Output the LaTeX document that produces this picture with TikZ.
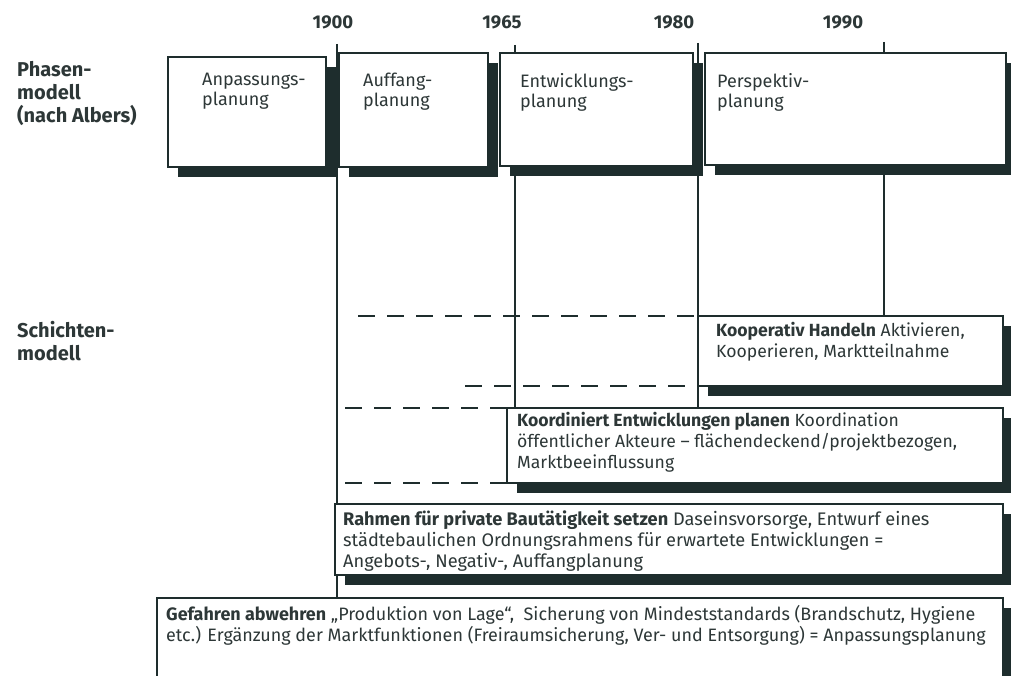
\documentclass[tikz,border=0pt]{standalone}
\usepackage{fontspec}
\setmainfont{Fira Sans}
\usetikzlibrary{shadows}
\definecolor{ink}{RGB}{30,45,45}
\definecolor{txt}{RGB}{45,55,55}
\pgfdeclarelayer{bg}
\pgfsetlayers{bg,main}
\begin{document}
\begin{tikzpicture}[x=1pt,y=-1pt,
  box/.style={draw=ink, line width=1.8pt, fill=white, anchor=north west, inner sep=0pt, outer sep=0pt,
    drop shadow={shadow xshift=10pt, shadow yshift=-10pt, fill=ink, opacity=1}},
  vline/.style={draw=ink, line width=1.8pt},
  dline/.style={draw=ink, line width=1.8pt, dash pattern=on 17pt off 12pt},
  ptext/.style={anchor=north west, inner sep=0pt, align=left, text=txt, font=\fontsize{18}{20}\selectfont},
  ltext/.style={anchor=north west, inner sep=0pt, align=left, text=txt, font=\fontsize{17.6}{21}\selectfont},
  head/.style={anchor=north west, inner sep=0pt, align=left, text=txt, font=\bfseries\fontsize{20}{23}\selectfont},
  year/.style={inner sep=0pt, text=txt, font=\bfseries\fontsize{18.5}{20}\selectfont}]
\clip (0,0) rectangle (1011,676);

% year labels
\node[year] (y1900) at (333,22) {1900};
\node[year] (y1965) at (502,22) {1965};
\node[year] (y1980) at (674,22) {1980};
\node[year] (y1990) at (843,22) {1990};

% left labels
\node[head] (phasen) at (17,61) {Phasen-\\modell\\(nach Albers)};
\node[head] (schichten) at (17,321) {Schichten-\\modell};

% phase boxes
\node[box, minimum width=158pt, minimum height=110pt] (p1) at (168,57) {};
\node[box, minimum width=149pt, minimum height=114pt] (p2) at (339,53) {};
\node[box, minimum width=193pt, minimum height=113pt] (p3) at (500,53) {};
\node[box, minimum width=301pt, minimum height=112pt] (p4) at (705,53) {};

\node[ptext] (p1t) at (202,73) {Anpassungs-\\planung};
\node[ptext] (p2t) at (363,73) {Auffang-\\planung};
\node[ptext] (p3t) at (520,73) {Entwicklungs-\\planung};
\node[ptext] (p4t) at (717,73) {Perspektiv-\\planung};

% layer boxes
\node[box, minimum width=305pt, minimum height=70pt] (koop) at (698,316) {};
\node[box, minimum width=496pt, minimum height=75pt] (koord) at (507,408) {};
\node[box, minimum width=668pt, minimum height=71pt] (rahmen) at (335,504) {};
\node[box, minimum width=846pt, minimum height=95pt] (gef) at (157,598) {};

\node[ltext] (koopt) at (716,322) {\textbf{Kooperativ Handeln} Aktivieren,\\Kooperieren, Marktteilnahme};
\node[ltext] (koordt) at (517,412) {\textbf{Koordiniert Entwicklungen planen} Koordination\\öffentlicher Akteure – flächendeckend/projektbezogen,\\Marktbeeinflussung};
\node[ltext, font=\fontsize{18.2}{21}\selectfont] (rahment) at (343,511) {\textbf{Rahmen für private Bautätigkeit setzen} Daseinsvorsorge, Entwurf eines\\städtebaulichen Ordnungsrahmens für erwartete Entwicklungen =\\Angebots-, Negativ-, Auffangplanung};
\node[ltext, font=\fontsize{17.95}{21}\selectfont] (geft) at (166,605) {\textbf{Gefahren abwehren} „Produktion von Lage“,\ \ Sicherung von Mindeststandards (Brandschutz, Hygiene\\etc.) Ergänzung der Marktfunktionen (Freiraumsicherung, Ver- und Entsorgung) = Anpassungsplanung};

% time lines and dashed connectors
\coordinate (t1900) at (337,44);
\coordinate (t1965) at (515,45);
\coordinate (t1980) at (698,43);
\coordinate (t1990) at (884,42);
\coordinate (d1) at (358,316);
\coordinate (d2) at (465,386);
\coordinate (d3) at (345,408);
\coordinate (d4) at (345,483);
\begin{pgfonlayer}{bg}
\fill[white] (0,0) rectangle (1011,676);
\draw[vline] (t1900) -- (t1900 |- gef.north);
\draw[vline] (t1965) -- (t1965 |- koord.north);
\draw[vline] (t1980) -- (t1980 |- koord.north);
\draw[vline] (t1990) -- (t1990 |- koop.north);
\end{pgfonlayer}
\draw[dline] (d1) -- (koop.north west);
\draw[dline] (d2) -- (koop.south west);
\draw[dline] (d3) -- (koord.north west);
\draw[dline] (d4) -- (koord.south west);
\end{tikzpicture}
\end{document}
